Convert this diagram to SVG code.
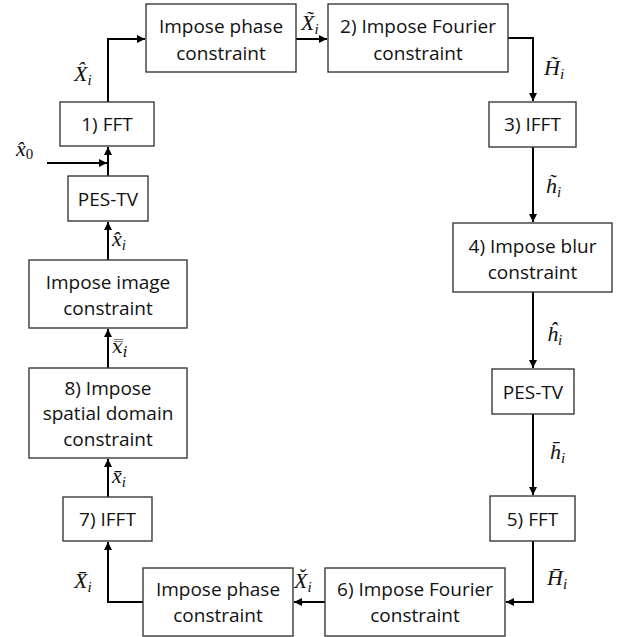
<svg xmlns="http://www.w3.org/2000/svg" width="623" height="637" viewBox="0 0 623 637">
  <style>
    .box { fill: #ffffff; stroke: #3a3a3a; stroke-width: 1.4; }
    .lbl { font-family: "Open Sans", "Noto Sans", sans-serif; font-size: 19px; fill: #111111; text-anchor: middle; }
    .math { font-family: "Liberation Serif", "DejaVu Serif", serif; font-style: italic; font-size: 22px; fill: #111111; }
    .math-dv { font-family: "DejaVu Serif", serif; font-style: italic; font-size: 19px; fill: #111111; }
    .sub { font-size: 15px; }
    .wire { fill: none; stroke: #000000; stroke-width: 2; }
  </style>
  <defs>
    <marker id="arrow" viewBox="0 0 10 10" refX="10" refY="5" markerWidth="8" markerHeight="8" markerUnits="userSpaceOnUse" orient="auto">
      <path d="M0,0 L10,5 L0,10 Z" fill="#000000"/>
    </marker>
  </defs>

  <rect width="623" height="637" fill="#ffffff"/>

  <!-- connectors -->
  <g id="connectors">
    <path class="wire" d="M108,176 L108,147" marker-end="url(#arrow)"/>
    <path class="wire" d="M47,163 L107,163" marker-end="url(#arrow)"/>
    <path class="wire" d="M108,102 L108,39 L145,39" marker-end="url(#arrow)"/>
    <path class="wire" d="M296,39 L327,39" marker-end="url(#arrow)"/>
    <path class="wire" d="M508,38 L533,38 L533,101" marker-end="url(#arrow)"/>
    <path class="wire" d="M533,147 L533,222" marker-end="url(#arrow)"/>
    <path class="wire" d="M533,292 L533,368" marker-end="url(#arrow)"/>
    <path class="wire" d="M533,414 L533,495" marker-end="url(#arrow)"/>
    <path class="wire" d="M533,541 L533,602 L506,602" marker-end="url(#arrow)"/>
    <path class="wire" d="M325,602 L294,602" marker-end="url(#arrow)"/>
    <path class="wire" d="M143,602 L108,602 L108,542" marker-end="url(#arrow)"/>
    <path class="wire" d="M108,497 L108,459" marker-end="url(#arrow)"/>
    <path class="wire" d="M108,368 L108,329" marker-end="url(#arrow)"/>
    <path class="wire" d="M108,260 L108,222" marker-end="url(#arrow)"/>
  </g>

  <!-- signal labels -->
  <g id="signals">
    <text class="math" x="74" y="81">X̂<tspan class="sub" dy="4">i</tspan></text>
    <text class="math" x="301" y="30">X̃<tspan class="sub" dy="4">i</tspan></text>
    <text class="math" x="544" y="75">H̃<tspan class="sub" dy="4">i</tspan></text>
    <text class="math" x="546" y="193">h̃<tspan class="sub" dy="4">i</tspan></text>
    <text class="math" x="547" y="341">ĥ<tspan class="sub" dy="4">i</tspan></text>
    <text class="math" x="550" y="459">h̄<tspan class="sub" dy="4">i</tspan></text>
    <text class="math" x="547" y="585">H̄<tspan class="sub" dy="4">i</tspan></text>
    <text class="math" x="294" y="588">X̌<tspan class="sub" dy="4">i</tspan></text>
    <text class="math" x="74" y="588">X̄<tspan class="sub" dy="4">i</tspan></text>
    <text class="math" x="112" y="483">x̄<tspan class="sub" dy="4">i</tspan></text>
    <text class="math-dv" x="112" y="353">x̿<tspan class="sub" dy="4">i</tspan></text>
    <text class="math" x="112" y="246">x̂<tspan class="sub" dy="4">i</tspan></text>
    <text class="math" x="16" y="156">x̂<tspan class="sub" dy="3" font-style="normal">0</tspan></text>
  </g>

  <!-- nodes -->
  <g id="fft1">
    <rect class="box" x="60" y="102" width="94" height="44"/>
    <text class="lbl" x="107" y="131">1) FFT</text>
  </g>
  <g id="phase-top">
    <rect class="box" x="146" y="4" width="150" height="68"/>
    <text class="lbl" x="221" y="33">Impose phase</text>
    <text class="lbl" x="221" y="60">constraint</text>
  </g>
  <g id="fourier2">
    <rect class="box" x="328" y="4" width="180" height="68"/>
    <text class="lbl" x="418" y="33">2) Impose Fourier</text>
    <text class="lbl" x="418" y="60">constraint</text>
  </g>
  <g id="ifft3">
    <rect class="box" x="489" y="102" width="87" height="45"/>
    <text class="lbl" x="532.5" y="131">3) IFFT</text>
  </g>
  <g id="blur4">
    <rect class="box" x="453" y="223" width="159" height="69"/>
    <text class="lbl" x="532.5" y="253">4) Impose blur</text>
    <text class="lbl" x="532.5" y="279">constraint</text>
  </g>
  <g id="pestv-right">
    <rect class="box" x="492" y="369" width="82" height="45"/>
    <text class="lbl" x="533" y="399">PES-TV</text>
  </g>
  <g id="fft5">
    <rect class="box" x="490" y="496" width="85" height="45"/>
    <text class="lbl" x="532.5" y="526">5) FFT</text>
  </g>
  <g id="fourier6">
    <rect class="box" x="325" y="568" width="180" height="68"/>
    <text class="lbl" x="415" y="596">6) Impose Fourier</text>
    <text class="lbl" x="415" y="622">constraint</text>
  </g>
  <g id="phase-bottom">
    <rect class="box" x="143" y="568" width="150" height="68"/>
    <text class="lbl" x="218" y="596">Impose phase</text>
    <text class="lbl" x="218" y="622">constraint</text>
  </g>
  <g id="ifft7">
    <rect class="box" x="63" y="497" width="89" height="44"/>
    <text class="lbl" x="107.5" y="526">7) IFFT</text>
  </g>
  <g id="spatial8">
    <rect class="box" x="29" y="368" width="158" height="90"/>
    <text class="lbl" x="108" y="395">8) Impose</text>
    <text class="lbl" x="108" y="420">spatial domain</text>
    <text class="lbl" x="108" y="446">constraint</text>
  </g>
  <g id="image">
    <rect class="box" x="29" y="260" width="158" height="68"/>
    <text class="lbl" x="108" y="289">Impose image</text>
    <text class="lbl" x="108" y="315">constraint</text>
  </g>
  <g id="pestv-left">
    <rect class="box" x="68" y="176" width="80" height="45"/>
    <text class="lbl" x="108" y="206">PES-TV</text>
  </g>
</svg>
